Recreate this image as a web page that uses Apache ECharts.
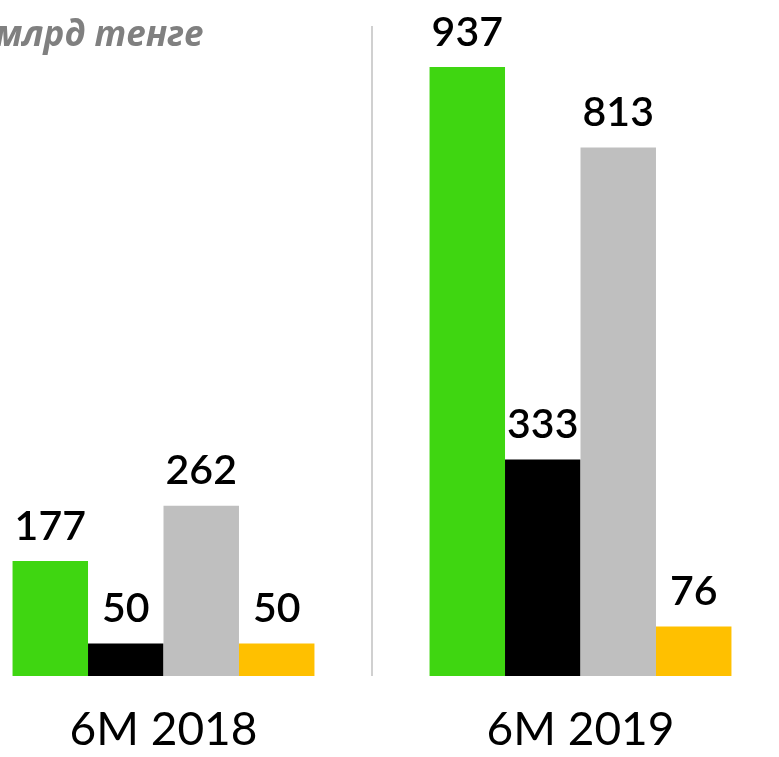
<!DOCTYPE html>
<html>
<head>
<meta charset="utf-8">
<script src="https://cdn.jsdelivr.net/npm/echarts@6/dist/echarts.min.js"></script>
<style>
  html, body { margin: 0; padding: 0; background: #fff; }
  #chart { width: 779px; height: 757px; }
</style>
</head>
<body>
<div id="chart"></div>
<script>
// half-year periods
const periods = ['6M 2018', '6M 2019']
// four series, order left to right inside each group
const greenVals = [177, 937]
const blackVals = [50, 333]
const grayVals = [262, 813]
const yellowVals = [50, 76]
const unitTitle = 'млрд тенге'

const colors = ['#3fd611', '#000000', '#bfbfbf', '#ffc000']

let chart = echarts.init(document.getElementById('chart'))

function makeSeries(data, color) {
    return {
        type: 'bar',
        data: data,
        barGap: '0%',
        barCategoryGap: '27.6%',
        itemStyle: {color: color},
        label: {
            show: true,
            position: 'top',
            distance: 14,
            fontFamily: 'Lato',
            fontSize: 41,
            fontWeight: 600,
            color: '#000'
        },
        silent: true
    }
}

chart.setOption({
    animation: false,
    title: {
        text: unitTitle,
        left: -10,
        top: 14,
        textStyle: {
            fontFamily: 'Open Sans',
            fontStyle: 'italic',
            fontWeight: 'bold',
            fontSize: 35,
            color: '#808080'
        }
    },
    grid: {
        left: -45,
        right: -10,
        top: 26,
        bottom: 81,
        outerBoundsMode: 'none'
    },
    xAxis: {
        type: 'category',
        data: periods,
        axisLine: {show: false},
        axisTick: {show: false},
        splitLine: {show: true, lineStyle: {color: '#d0d0d0', width: 2}},
        axisLabel: {
            margin: 31,
            fontFamily: 'Lato',
            fontSize: 46,
            color: '#000'
        }
    },
    yAxis: {
        type: 'value',
        min: 0,
        max: 1000,
        show: false
    },
    series: [
        makeSeries(greenVals, colors[0]),
        makeSeries(blackVals, colors[1]),
        makeSeries(grayVals, colors[2]),
        makeSeries(yellowVals, colors[3])
    ]
})
</script>
</body>
</html>
